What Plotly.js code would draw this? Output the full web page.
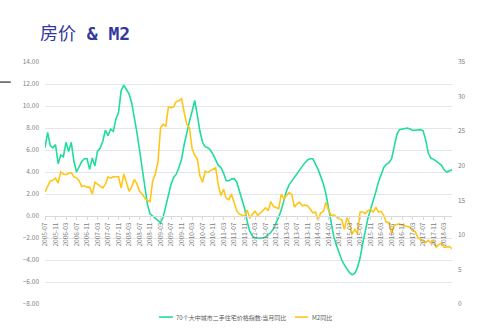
<!DOCTYPE html>
<html>
<head>
<meta charset="utf-8">
<script src="https://cdn.plot.ly/plotly-3.0.1.min.js"></script>
<style>html,body{margin:0;padding:0;background:#fff;}#chart{width:500px;height:334px;}</style>
</head>
<body>
<div id="chart"></div>
<script>
// ---- data ----
var startYear = 2005, startMonth = 7, monthCount = 156;
var months = [];
for (var k = 0; k < monthCount; k++) {
  var m = startMonth - 1 + k;
  var yy = startYear + Math.floor(m / 12), mm = (m % 12) + 1;
  months.push(yy + '-' + (mm < 10 ? '0' + mm : '' + mm));
}
var seriesNames = ['70个大中城市二手住宅价格指数:当月同比', 'M2同比'];
var housePriceYoY = [
  6.2, 7.6, 6.4, 6.2, 6.5, 4.75, 5.55, 5.4, 6.7, 5.85, 6.7, 5.0,
  4.0, 4.55, 4.95, 5.2, 5.2, 4.24, 5.27, 4.55, 5.9, 6.15, 6.8, 7.8,
  7.3, 7.9, 7.7, 8.8, 9.4, 11.4, 11.9, 11.5, 11.1, 10.3, 9.1, 7.6,
  6.0, 4.5, 2.6, 1.06, 0.2, 0.0, -0.15, -0.4, -0.6, -0.1, 0.9, 1.9,
  2.88, 3.5, 3.8, 4.4, 5.15, 6.5, 7.7, 8.6, 9.5, 10.5, 9.2, 7.7,
  6.7, 6.3, 6.2, 6.0, 5.6, 5.1, 4.6, 4.4, 3.9, 3.2, 3.2, 3.36,
  3.4, 3.1, 2.3, 1.7, 0.7, -0.5, -1.4, -1.8, -2.0, -2.0, -2.0, -2.0,
  -1.9, -1.7, -1.5, -1.15, -0.67, -0.1, 0.56, 1.4, 2.3, 2.85, 3.2, 3.5,
  3.8, 4.2, 4.54, 4.85, 5.1, 5.2, 5.2, 4.76, 4.24, 3.6, 2.94, 2.0,
  0.6, -0.76, -1.9, -2.66, -3.4, -4.0, -4.45, -4.85, -5.15, -5.35, -5.2, -4.7,
  -3.8, -2.5, -1.3, -0.2, 0.6, 1.35, 2.2, 3.1, 3.85, 4.4, 4.7, 4.85,
  5.2, 6.2, 7.4, 7.85, 7.92, 7.96, 8.0, 7.9, 7.8, 7.8, 7.85, 7.85,
  7.75, 6.9, 5.7, 5.25, 5.15, 5.0, 4.8, 4.6, 4.2, 4.0, 4.1, 4.2
];
var m2YoY = [
  16.2, 17.1, 17.8, 17.9, 18.2, 17.5, 19.1, 18.8, 18.7, 18.9, 19.0, 18.4,
  18.25, 17.8, 17.0, 17.1, 16.9, 16.9, 15.9, 17.6, 17.3, 17.05, 16.8, 17.3,
  18.4, 18.2, 18.4, 18.4, 18.4, 16.8, 18.8, 17.6, 16.3, 16.9, 18.0, 17.4,
  16.3, 15.9, 15.3, 15.0, 14.8, 17.8, 18.8, 20.5, 25.5, 26.0, 25.7, 28.5,
  28.4, 28.5, 29.3, 29.4, 29.7, 27.7, 26.0, 25.5, 22.5, 21.5, 21.0, 18.5,
  17.6, 19.2, 19.0, 19.3, 19.5, 19.7, 17.2, 15.7, 16.6, 15.3, 15.1, 15.9,
  14.7, 13.5, 13.0, 12.9, 12.7, 13.6, 12.4, 13.0, 13.4, 12.8, 13.2, 13.6,
  13.9, 13.5, 14.8, 14.1, 13.9, 13.8, 15.9, 15.2, 15.7, 16.1, 15.8, 14.0,
  14.5, 14.7, 14.2, 14.3, 14.2, 13.6, 13.2, 13.3, 12.1, 13.2, 13.4, 14.7,
  13.5, 12.8, 12.9, 12.6, 12.3, 12.2, 10.8, 12.5, 11.6, 10.1, 10.8, 10.2,
  13.3, 13.3, 13.1, 13.5, 13.7, 13.3, 14.0, 13.3, 13.4, 12.8, 11.8, 11.8,
  10.2, 11.4, 11.5, 11.6, 11.4, 11.3, 11.3, 11.1, 10.6, 10.5, 9.6, 9.4,
  9.2, 8.9, 9.2, 8.8, 9.1, 8.2, 8.6, 8.8, 8.2, 8.3, 8.3, 8.0
];
var tickLabels = months.filter(function (d, i) { return i % 4 === 0; });

// ---- styles ----
var green = '#1fdc9f', yellow = '#ffc61a';
var FONT = 'Noto Sans CJK SC, Noto Sans, sans-serif';
var leftMin = -8, leftMax = 14;

var traces = [
  {x: months, y: housePriceYoY, name: seriesNames[0], type: 'scatter', mode: 'lines',
   line: {color: green, width: 1.6}, yaxis: 'y'},
  {x: months, y: m2YoY, name: seriesNames[1], type: 'scatter', mode: 'lines',
   line: {color: yellow, width: 1.6}, yaxis: 'y2'}
];

var legendY = -0.054;
var layout = {
  width: 500, height: 334,
  margin: {l: 45, r: 48, t: 62, b: 30},
  paper_bgcolor: '#ffffff', plot_bgcolor: '#ffffff',
  showlegend: false,
  font: {family: FONT, size: 6.5, color: '#808080'},
  title: {text: '房价<span style="font-family:DejaVu Sans Mono"><b>&nbsp;&amp; M2</b></span>',
          xref: 'container', yref: 'container',
          x: 0.08, xanchor: 'left', y: 0.9, yanchor: 'middle',
          font: {family: FONT, size: 18, color: '#33389c'}},
  xaxis: {type: 'category', range: [0, monthCount - 1], anchor: 'free',
          position: (0 - leftMin) / (leftMax - leftMin),
          tickmode: 'array', tickvals: tickLabels, ticktext: tickLabels,
          tickangle: -90, showgrid: false, zeroline: false,
          showline: true, linecolor: '#d9d9d9', linewidth: 1,
          ticks: 'outside', ticklen: 3, tickcolor: '#d9d9d9',
          tickfont: {size: 6.5, color: '#808080'}},
  yaxis: {range: [leftMin, leftMax], dtick: 2, tick0: 0, tickformat: '.2f',
          showgrid: true, gridcolor: '#e6e6e6', gridwidth: 1, zeroline: false,
          showline: false, ticks: '', ticklabelstandoff: 5,
          tickfont: {size: 6.5, color: '#808080'}},
  yaxis2: {range: [0, 35], dtick: 5, overlaying: 'y', side: 'right',
           showgrid: false, zeroline: false, showline: false, ticks: '',
           ticklabelstandoff: 5, tickfont: {size: 6.5, color: '#808080'}},
  shapes: [
    {type: 'line', xref: 'paper', yref: 'paper', x0: -0.111, x1: -0.084, y0: 0.917, y1: 0.917,
     line: {color: '#555555', width: 1.5}},
    {type: 'line', xref: 'paper', yref: 'paper', x0: 0.280, x1: 0.3145, y0: legendY, y1: legendY,
     line: {color: green, width: 1.6}},
    {type: 'line', xref: 'paper', yref: 'paper', x0: 0.614, x1: 0.646, y0: legendY, y1: legendY,
     line: {color: yellow, width: 1.6}}
  ],
  annotations: [
    {xref: 'paper', yref: 'paper', x: 0.318, y: legendY, xanchor: 'left', yanchor: 'middle',
     text: seriesNames[0], showarrow: false, font: {family: FONT, size: 6, color: '#595959'}},
    {xref: 'paper', yref: 'paper', x: 0.651, y: legendY, xanchor: 'left', yanchor: 'middle',
     text: seriesNames[1], showarrow: false, font: {family: FONT, size: 6, color: '#595959'}}
  ]
};

Plotly.newPlot('chart', traces, layout, {displayModeBar: false, staticPlot: true});
</script>
</body>
</html>
